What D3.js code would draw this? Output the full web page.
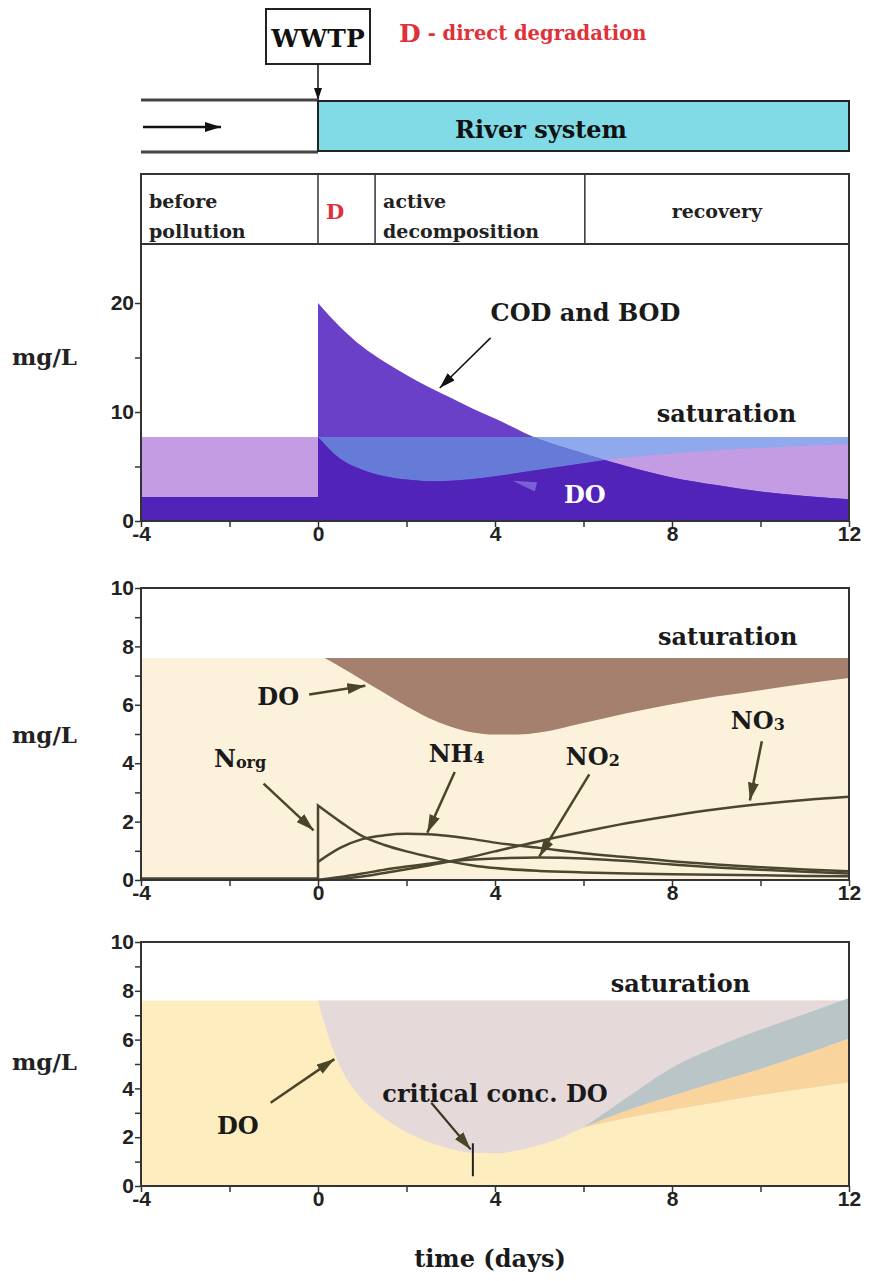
<!DOCTYPE html>
<html>
<head>
<meta charset="utf-8">
<script src="https://cdn.jsdelivr.net/npm/d3@7"></script>
<style>
  body { margin: 0; background: #fff; }
  svg text { font-family: "DejaVu Serif", serif; font-weight: bold; }
  .tick text { font-family: "Liberation Sans", Arial, sans-serif; font-weight: bold; }
</style>
</head>
<body>
<div id="chart"></div>
<script>
// ---- data ----
const dayTicks = [-4, 0, 4, 8, 12];
const dayMinor = [-4, -2, 0, 2, 4, 6, 8, 10, 12];

const phaseEdges = [-4, 0, 1.29, 6.03, 12];
const phaseLabels = [["before", "pollution"], ["D"], ["active", "decomposition"], ["recovery"]];

// panel 1 : COD/BOD and DO
const sat1 = 7.7;
const codBefore = 2.2;
const tPost = [0, 0.5, 1, 1.5, 2, 2.5, 3, 3.5, 4, 5, 6, 7, 8, 9, 10, 11, 12];
const cod = [20, 17.8, 16.0, 14.6, 13.4, 12.3, 11.3, 10.3, 9.4, 7.5, 6.2, 5.0, 4.0, 3.3, 2.7, 2.3, 2.0];
const do1 = [7.7, 5.7, 4.7, 4.1, 3.8, 3.65, 3.7, 3.85, 4.1, 4.7, 5.3, 5.85, 6.2, 6.5, 6.7, 6.9, 7.05];

// panel 2 : nitrogen forms
const sat2 = 7.6;
const tDO2 = [0.15, 0.5, 1, 1.5, 2, 2.5, 3, 3.5, 4, 4.5, 5, 6, 7, 8, 9, 10, 11, 12];
const do2 = [7.6, 7.3, 6.85, 6.4, 5.95, 5.55, 5.25, 5.05, 4.98, 4.98, 5.05, 5.38, 5.72, 6.02, 6.28, 6.5, 6.72, 6.92];
const nOrgBefore = 0.05;
const nOrg = [2.55, 2.0, 1.5, 1.2, 0.98, 0.8, 0.63, 0.5, 0.41, 0.31, 0.26, 0.22, 0.2, 0.18, 0.16, 0.14, 0.13];
const nh4 = [0.62, 1.1, 1.4, 1.53, 1.58, 1.57, 1.5, 1.4, 1.28, 1.1, 0.92, 0.78, 0.64, 0.53, 0.44, 0.36, 0.3];
const no2 = [0, 0.1, 0.22, 0.35, 0.46, 0.56, 0.64, 0.7, 0.74, 0.77, 0.74, 0.65, 0.53, 0.43, 0.35, 0.28, 0.22];
const no3 = [0, 0.04, 0.12, 0.24, 0.37, 0.5, 0.64, 0.8, 0.98, 1.33, 1.65, 1.95, 2.2, 2.42, 2.6, 2.74, 2.85];

// panel 3 : DO sag and recovery
const sat3 = 7.6;
const tDO3 = [0, 0.1, 0.2, 0.3, 0.45, 0.6, 0.8, 1, 1.3, 1.6, 2, 2.5, 3, 3.5, 4, 4.5, 5, 5.5, 6, 7, 8, 9, 10, 11, 12];
const do3 = [7.6, 6.95, 6.35, 5.8, 5.1, 4.55, 4.0, 3.55, 3.05, 2.65, 2.2, 1.8, 1.52, 1.36, 1.34, 1.45, 1.68, 1.98, 2.4, 2.8, 3.12, 3.43, 3.73, 4.0, 4.25];
const tRec = [6, 7, 8, 9, 10, 11, 12];
const recTop = [2.4, 3.65, 4.85, 5.7, 6.4, 7.05, 7.7];
const recMid = [2.4, 3.1, 3.7, 4.25, 4.8, 5.4, 6.05];
const critDay = 3.5;
const critRange = [0.4, 1.75];

// ---- drawing ----
const W = 869, H = 1281;
const svg = d3.select("#chart").append("svg").attr("width", W).attr("height", H);
const defs = svg.append("defs");

function marker(id, color, len, wid) {
  defs.append("marker").attr("id", id)
    .attr("viewBox", `0 0 ${len} ${wid}`)
    .attr("markerUnits", "userSpaceOnUse")
    .attr("markerWidth", len).attr("markerHeight", wid)
    .attr("refX", len).attr("refY", wid / 2)
    .attr("orient", "auto")
    .append("path").attr("d", `M0,0L${len},${wid / 2}L0,${wid}Z`).attr("fill", color);
}
marker("arrBlack", "#111", 16, 10);
marker("arrSmall", "#111", 12, 8);
marker("arrOlive", "#4a4528", 18, 11);

const x = d3.scaleLinear().domain([-4, 12]).range([141, 849]);
const y1 = d3.scaleLinear().domain([0, 20]).range([521, 303]);
const y2 = d3.scaleLinear().domain([0, 10]).range([880, 588]);
const y3 = d3.scaleLinear().domain([0, 10]).range([1186, 942]);
const curve = d3.curveMonotoneX;

// ---------- header ----------
const wwtpX = x(0);
svg.append("rect").attr("x", 266).attr("y", 9).attr("width", 104).attr("height", 55)
  .attr("fill", "#fff").attr("stroke", "#222").attr("stroke-width", 2);
svg.append("text").attr("x", 318).attr("y", 38).attr("text-anchor", "middle")
  .attr("dominant-baseline", "central").attr("font-size", 25).attr("fill", "#111").text("WWTP");
svg.append("line").attr("x1", wwtpX).attr("x2", wwtpX).attr("y1", 64).attr("y2", 100)
  .attr("stroke", "#111").attr("stroke-width", 1.5).attr("marker-end", "url(#arrSmall)");

const red = svg.append("text").attr("x", 399).attr("y", 33).attr("dominant-baseline", "central").attr("fill", "#e0303a");
red.append("tspan").attr("font-size", 25).text("D");
red.append("tspan").attr("font-size", 19.5).attr("dx", 7).text("- direct degradation");

// river
svg.append("line").attr("x1", x(-4)).attr("x2", x(0)).attr("y1", 100).attr("y2", 100)
  .attr("stroke", "#444").attr("stroke-width", 3);
svg.append("line").attr("x1", x(-4)).attr("x2", x(0)).attr("y1", 152).attr("y2", 152)
  .attr("stroke", "#444").attr("stroke-width", 3);
svg.append("rect").attr("x", x(0)).attr("y", 101).attr("width", x(12) - x(0)).attr("height", 50)
  .attr("fill", "#80dbe6").attr("stroke", "#222").attr("stroke-width", 2);
svg.append("line").attr("x1", x(-4) + 2).attr("x2", 221).attr("y1", 127).attr("y2", 127)
  .attr("stroke", "#111").attr("stroke-width", 2.5).attr("marker-end", "url(#arrBlack)");
svg.append("text").attr("x", 541).attr("y", 129).attr("text-anchor", "middle")
  .attr("dominant-baseline", "central").attr("font-size", 24).attr("fill", "#111").text("River system");

// phase box
const phaseTop = 174, phaseBot = 244;
svg.append("rect").attr("x", x(-4)).attr("y", phaseTop).attr("width", x(12) - x(-4)).attr("height", phaseBot - phaseTop)
  .attr("fill", "#fff").attr("stroke", "#333").attr("stroke-width", 2);
phaseEdges.slice(1, -1).forEach(e => {
  svg.append("line").attr("x1", x(e)).attr("x2", x(e)).attr("y1", phaseTop).attr("y2", phaseBot)
    .attr("stroke", "#333").attr("stroke-width", 1.5);
});
phaseLabels.forEach((lines, i) => {
  const x0 = x(phaseEdges[i]), x1 = x(phaseEdges[i + 1]);
  const isRecovery = i === 3, isD = i === 1;
  const t = svg.append("text").attr("font-size", isD ? 21 : 19)
    .attr("fill", isD ? "#e0303a" : "#222")
    .attr("text-anchor", isRecovery ? "middle" : "start");
  const tx = isRecovery ? (x0 + x1) / 2 : x0 + 8;
  if (lines.length === 2) {
    t.append("tspan").attr("x", tx).attr("y", 201).attr("dominant-baseline", "central").text(lines[0]);
    t.append("tspan").attr("x", tx).attr("y", 231).attr("dominant-baseline", "central").text(lines[1]);
  } else {
    t.attr("x", tx).attr("y", 211).attr("dominant-baseline", "central").text(lines[0]);
  }
});

// ---------- helpers ----------
function xAxis(yPix) {
  const g = svg.append("g").attr("transform", `translate(0,${yPix})`)
    .call(d3.axisBottom(x).tickValues(dayMinor).tickSize(6).tickSizeOuter(0)
      .tickFormat(d => dayTicks.includes(d) ? d : ""));
  g.select(".domain").remove();
  g.selectAll(".tick line").attr("stroke", "#333").attr("stroke-width", 1.5);
  g.selectAll(".tick text").attr("font-size", 21).attr("fill", "#222").attr("dy", "0.5em");
}
function yAxis(scale, values, labelled) {
  const g = svg.append("g").attr("transform", `translate(${x(-4)},0)`)
    .call(d3.axisLeft(scale).tickValues(values).tickSize(6).tickSizeOuter(0)
      .tickFormat(d => labelled.includes(d) ? d : ""));
  g.select(".domain").remove();
  g.selectAll(".tick line").attr("stroke", "#333").attr("stroke-width", 1.5);
  g.selectAll(".tick text").attr("font-size", 21).attr("fill", "#222").attr("x", -7);
}
function mgL(yPix) {
  svg.append("text").attr("x", 12).attr("y", yPix).attr("dominant-baseline", "central")
    .attr("font-size", 23).attr("fill", "#222").text("mg/L");
}
function label(txt, px, py, opts = {}) {
  return svg.append("text").attr("x", px).attr("y", py)
    .attr("text-anchor", opts.anchor || "start").attr("dominant-baseline", "central")
    .attr("font-size", opts.size || 24).attr("fill", opts.color || "#1a1a1a").text(txt);
}
function arrow(p0, p1, mk, color, w) {
  svg.append("line").attr("x1", p0[0]).attr("y1", p0[1]).attr("x2", p1[0]).attr("y2", p1[1])
    .attr("stroke", color).attr("stroke-width", w).attr("marker-end", `url(#${mk})`);
}
// a step before day 0 followed by a smooth curve after it, as one path
function stepThenCurve(ys, before, ts, vals, closeBottom) {
  const pts = ts.map((t, i) => [x(t), ys(vals[i])]);
  const tail = d3.line().curve(curve)(pts).replace(/^M/, "L");
  let d = `M${x(-4)},${ys(before)}L${x(0)},${ys(before)}` + tail;
  if (closeBottom) d += `L${x(12)},${ys(0)}L${x(-4)},${ys(0)}Z`;
  return d;
}

// ---------- panel 1 ----------
const p1Top = phaseBot;
svg.append("rect").attr("x", x(-4)).attr("y", y1(sat1)).attr("width", x(12) - x(-4))
  .attr("height", y1(0) - y1(sat1)).attr("fill", "#c49ce3");

const doPts1 = tPost.map((t, i) => ({ t, v: do1[i] }));
const deficit1 = d3.area().curve(curve).x(d => x(d.t)).y0(y1(sat1)).y1(d => y1(d.v))(doPts1);
svg.append("path").attr("d", deficit1).attr("fill", "#90a8ec");

defs.append("clipPath").attr("id", "clipDef1").append("path").attr("d", deficit1);
defs.append("clipPath").attr("id", "clipBelow1").append("path")
  .attr("d", stepThenCurve(y1, sat1, tPost, do1, true));

const codPath = stepThenCurve(y1, codBefore, tPost, cod, true);
svg.append("path").attr("d", codPath).attr("fill", "#6a40c8");
svg.append("path").attr("d", codPath).attr("fill", "#667bd8").attr("clip-path", "url(#clipDef1)");
svg.append("path").attr("d", codPath).attr("fill", "#5123b8").attr("clip-path", "url(#clipBelow1)");

// frame panel 1
[[x(-4), p1Top, x(-4), y1(0)], [x(12), p1Top, x(12), y1(0)], [x(-4), y1(0), x(12), y1(0)]].forEach(l => {
  svg.append("line").attr("x1", l[0]).attr("y1", l[1]).attr("x2", l[2]).attr("y2", l[3])
    .attr("stroke", "#333").attr("stroke-width", 2);
});
xAxis(y1(0));
yAxis(y1, [0, 5, 10, 15, 20], [0, 10, 20]);
mgL(y1(15.1));

label("COD and BOD", x(3.9), y1(19.1));
arrow([x(3.9), y1(16.8)], [x(2.75), y1(12.2)], "arrBlack", "#111", 1.5);
label("saturation", x(9.23), y1(9.9), { anchor: "middle" });
label("DO", x(6.03), y1(2.4), { anchor: "middle", color: "#fff" });
svg.append("path")
  .attr("d", `M${x(4.4)},${y1(3.7)}L${x(4.95)},${y1(3.55)}L${x(4.9)},${y1(2.7)}Z`)
  .attr("fill", "#7a60d6");

// ---------- panel 2 ----------
svg.append("rect").attr("x", x(-4)).attr("y", y2(sat2)).attr("width", x(12) - x(-4))
  .attr("height", y2(0) - y2(sat2)).attr("fill", "#fcf1da");
const doPts2 = tDO2.map((t, i) => ({ t, v: do2[i] }));
svg.append("path")
  .attr("d", d3.area().curve(curve).x(d => x(d.t)).y0(y2(sat2)).y1(d => y2(d.v))(doPts2))
  .attr("fill", "#a5806f");

const nLine = d3.line().curve(curve).x(d => x(d.t)).y(d => y2(d.v));
const nStyle = p => p.attr("fill", "none").attr("stroke", "#4b4630").attr("stroke-width", 2.5);
svg.append("path").attr("d", stepThenCurve(y2, nOrgBefore, tPost, nOrg, false)).call(nStyle);
[nh4, no2, no3].forEach(s => {
  svg.append("path").attr("d", nLine(tPost.map((t, i) => ({ t, v: s[i] })))).call(nStyle);
});

svg.append("rect").attr("x", x(-4)).attr("y", y2(10)).attr("width", x(12) - x(-4))
  .attr("height", y2(0) - y2(10)).attr("fill", "none").attr("stroke", "#333").attr("stroke-width", 2);
xAxis(y2(0));
yAxis(y2, d3.range(0, 11), [0, 2, 4, 6, 8, 10]);
mgL(y2(5));

label("saturation", x(9.26), y2(8.35), { anchor: "middle" });
label("DO", x(-0.9), y2(6.27), { anchor: "middle" });
arrow([x(-0.2), y2(6.35)], [x(1.07), y2(6.65)], "arrOlive", "#4a4528", 2.5);

function subLabel(main, sub, xd, yd) {
  const t = svg.append("text").attr("x", x(xd)).attr("y", y2(yd))
    .attr("dominant-baseline", "central").attr("fill", "#1a1a1a").attr("font-size", 24);
  t.append("tspan").text(main);
  t.append("tspan").attr("font-size", 16).attr("dy", 4).text(sub);
}
subLabel("N", "org", -2.35, 4.18);
arrow([x(-1.23), y2(3.3)], [x(-0.1), y2(1.7)], "arrOlive", "#4a4528", 2.5);
subLabel("NH", "4", 2.5, 4.35);
arrow([x(3.09), y2(3.7)], [x(2.47), y2(1.62)], "arrOlive", "#4a4528", 2.5);
subLabel("NO", "2", 5.6, 4.25);
arrow([x(6.13), y2(3.62)], [x(5.0), y2(0.8)], "arrOlive", "#4a4528", 2.5);
subLabel("NO", "3", 9.33, 5.48);
arrow([x(10.03), y2(4.75)], [x(9.76), y2(2.72)], "arrOlive", "#4a4528", 2.5);

// ---------- panel 3 ----------
svg.append("rect").attr("x", x(-4)).attr("y", y3(sat3)).attr("width", x(12) - x(-4))
  .attr("height", y3(0) - y3(sat3)).attr("fill", "#fdedbf");
const doPts3 = tDO3.map((t, i) => ({ t, v: do3[i] }));
svg.append("path")
  .attr("d", d3.area().curve(curve).x(d => x(d.t)).y0(y3(sat3)).y1(d => y3(d.v))(doPts3))
  .attr("fill", "#e5d9d9");
const rec = tRec.map((t, i) => ({ t, top: recTop[i], mid: recMid[i], low: do3[tDO3.indexOf(t)] }));
svg.append("path")
  .attr("d", d3.area().curve(curve).x(d => x(d.t)).y0(d => y3(d.mid)).y1(d => y3(d.top))(rec))
  .attr("fill", "#b9c5c6");
svg.append("path")
  .attr("d", d3.area().curve(curve).x(d => x(d.t)).y0(d => y3(d.low)).y1(d => y3(d.mid))(rec))
  .attr("fill", "#f9d49c");

svg.append("line").attr("x1", x(critDay)).attr("x2", x(critDay))
  .attr("y1", y3(critRange[0])).attr("y2", y3(critRange[1]))
  .attr("stroke", "#222").attr("stroke-width", 2);

svg.append("rect").attr("x", x(-4)).attr("y", y3(10)).attr("width", x(12) - x(-4))
  .attr("height", y3(0) - y3(10)).attr("fill", "none").attr("stroke", "#333").attr("stroke-width", 2);
xAxis(y3(0));
yAxis(y3, d3.range(0, 11), [0, 2, 4, 6, 8, 10]);
mgL(y3(5.1));

label("saturation", x(8.19), y3(8.3), { anchor: "middle" });
label("DO", x(-1.81), y3(2.49), { anchor: "middle" });
arrow([x(-1.07), y3(3.41)], [x(0.37), y3(5.2)], "arrOlive", "#4a4528", 2.5);
label("critical conc. DO", x(4.0), y3(3.79), { anchor: "middle" });
arrow([x(2.56), y3(3.41)], [x(3.45), y3(1.5)], "arrOlive", "#3a3420", 2.2);

label("time (days)", 490, 1258, { anchor: "middle" });
</script>
</body>
</html>
